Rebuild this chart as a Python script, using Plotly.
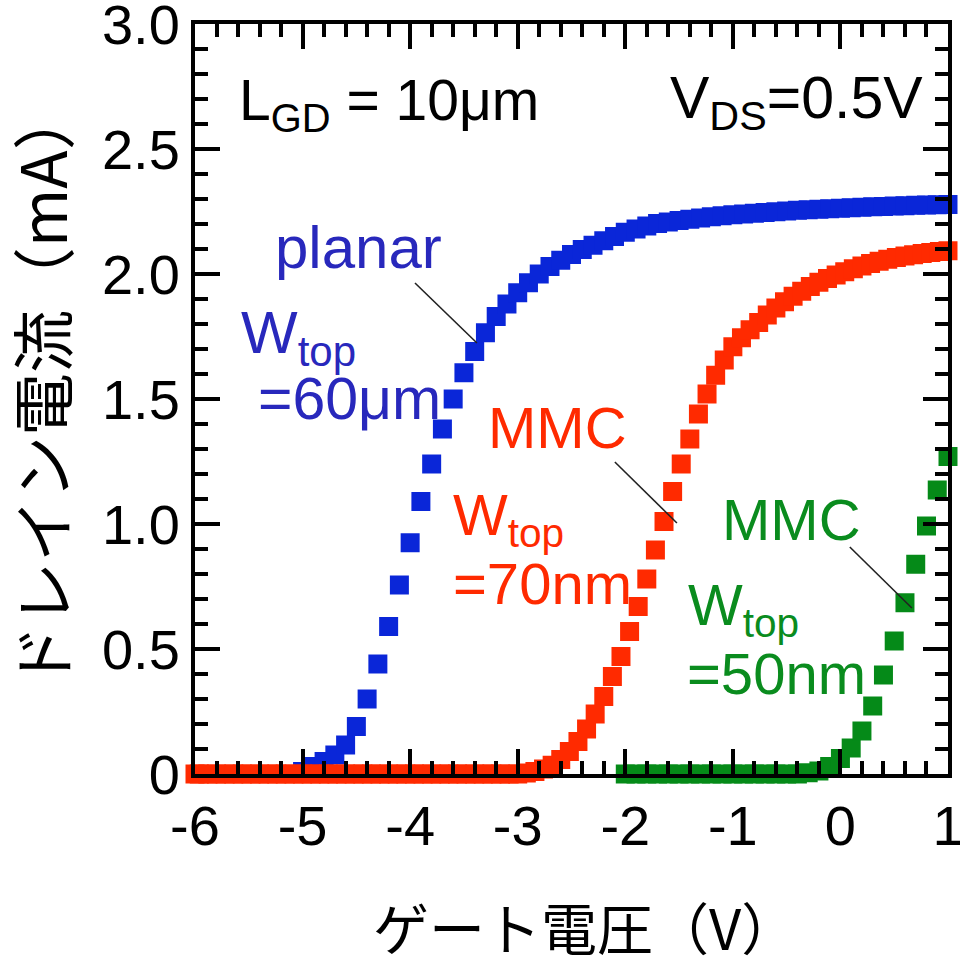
import numpy as np
import plotly.graph_objects as go

# ---------------- data ----------------
# planar, W_top = 60 um  (gate sweep -5.0 .. 1.0 V, 0.1 V step)
planar_v = np.round(np.arange(-5.0, 1.0001, 0.1), 2)
planar_i = [0.01, 0.03, 0.05, 0.076, 0.116, 0.19, 0.30, 0.44, 0.59, 0.756,
            0.925, 1.09, 1.24, 1.38, 1.50, 1.605, 1.69, 1.765, 1.83, 1.88,
            1.925, 1.965, 2.0, 2.03, 2.055, 2.078, 2.098, 2.115, 2.133, 2.15,
            2.167, 2.18, 2.192, 2.202, 2.208, 2.214, 2.219, 2.224, 2.229, 2.233,
            2.237, 2.24, 2.243, 2.246, 2.249, 2.252, 2.255, 2.257, 2.259, 2.261,
            2.263, 2.265, 2.267, 2.269, 2.27, 2.272, 2.273, 2.275, 2.276, 2.277,
            2.278]

# MMC, W_top = 70 nm  (gate sweep -6.0 .. 1.0 V, 0.08 V step)
mmc70_v = np.concatenate([[-6.0], np.round(1.0 - 0.08 * np.arange(87, -1, -1), 2)])
mmc70_i = [0.0] * 38 + [
    0.0, 0.004, 0.01, 0.02, 0.035, 0.058, 0.09, 0.13, 0.18, 0.24,
    0.31, 0.39, 0.47, 0.57, 0.67, 0.78, 0.896, 1.01, 1.13, 1.24,
    1.34, 1.44, 1.52, 1.595, 1.656, 1.709, 1.745, 1.777, 1.806, 1.836,
    1.864, 1.889, 1.911, 1.931, 1.95, 1.967, 1.982, 1.996, 2.009, 2.021,
    2.032, 2.042, 2.051, 2.059, 2.066, 2.072, 2.077, 2.082, 2.086, 2.09,
    2.093]

# MMC, W_top = 50 nm  (gate sweep -2.0 .. 1.0 V, 0.1 V step)
mmc50_v = np.round(np.arange(-2.0, 1.0001, 0.1), 2)
mmc50_i = [0.0] * 17 + [0.005, 0.012, 0.03, 0.062, 0.104, 0.172, 0.272, 0.396,
                        0.532, 0.685, 0.839, 0.992, 1.136, 1.27]

assert len(planar_v) == len(planar_i)
assert len(mmc70_v) == len(mmc70_i)
assert len(mmc50_v) == len(mmc50_i)

x_ticks = [-6, -5, -4, -3, -2, -1, 0, 1]
x_tick_text = ["-6", "-5", "-4", "-3", "-2", "-1", "0", "1"]
y_ticks = [0, 0.5, 1.0, 1.5, 2.0, 2.5, 3.0]
y_tick_text = ["0", "0.5", "1.0", "1.5", "2.0", "2.5", "3.0"]

# ---------------- styles ----------------
BLUE = "#0a26d8"
RED = "#ff2a00"
GREEN = "#058a18"
BLUE_T = "#2828bc"
RED_T = "#ff2a00"
GREEN_T = "#0a8c1e"
FONT = "Liberation Sans, Arial, sans-serif"
JFONT = "Noto Sans CJK JP, sans-serif"

W, H = 960, 960
ML, MR, MT, MB = 195, 12, 24, 186
PW, PH = W - ML - MR, H - MT - MB


def px(x):
    return (x - ML) / PW


def py(y):
    return (H - MB - y) / PH


fig = go.Figure()
for v, i, c in [(planar_v, planar_i, BLUE), (mmc70_v, mmc70_i, RED), (mmc50_v, mmc50_i, GREEN)]:
    fig.add_trace(go.Scatter(
        x=v, y=i, mode="markers", cliponaxis=False, showlegend=False,
        marker=dict(symbol="square", size=19, color=c, line=dict(width=0)),
    ))

axis_common = dict(
    showline=True, linewidth=4, linecolor="black", mirror="ticks",
    ticks="inside", ticklen=25, tickwidth=3.5, tickcolor="black",
    showgrid=False, zeroline=False, ticklabeloverflow="allow", automargin=False,
    tickfont=dict(family=FONT, size=56, color="black"),
)
fig.update_xaxes(range=[-6, 1], tickmode="array", tickvals=x_ticks, ticktext=x_tick_text,
                 minor=dict(dtick=0.2, tick0=0, ticks="inside", ticklen=13, tickwidth=3.5,
                            tickcolor="black", showgrid=False),
                 **axis_common)
fig.update_yaxes(range=[0, 3], tickmode="array", tickvals=y_ticks, ticktext=y_tick_text,
                 minor=dict(dtick=0.1, tick0=0, ticks="inside", ticklen=13, tickwidth=3.5,
                            tickcolor="black", showgrid=False),
                 **axis_common)

ann = []


def text(x, y, s, color, size=58, xanchor="left", family=FONT, angle=0):
    ann.append(dict(x=px(x), y=py(y), xref="paper", yref="paper", text=s, showarrow=False,
                    xanchor=xanchor, yanchor="middle", textangle=angle,
                    font=dict(family=family, size=size, color=color)))


text(237, 104, "L<sub>GD</sub> = 10μm", "black", size=57)
text(925, 102, "V<sub>DS</sub>=0.5V", "black", size=59, xanchor="right")

text(273, 247, "planar", BLUE_T, size=60)
text(239, 337, "W<sub>top</sub>", BLUE_T, size=60)
text(256, 399, "=60μm", BLUE_T, size=59)

text(486, 428, "MMC", RED_T)
text(451, 519, "W<sub>top</sub>", RED_T)
text(451, 584, "=70nm", RED_T)

text(720, 519, "MMC", GREEN_T)
text(686, 609, "W<sub>top</sub>", GREEN_T)
text(685, 673, "=50nm", GREEN_T)

text(585, 925, "ゲート電圧（V）", "black", size=56, xanchor="center", family=JFONT)
text(40, 388, "ドレイン電流（mA）", "black", size=63, xanchor="center", family=JFONT, angle=-90)

# leader lines
lines = [((-3.955, 1.964), (-3.379, 1.724)),
         ((-2.097, 1.248), (-1.52, 1.004)),
         ((0.087, 0.908), (0.664, 0.664))]
shapes = [dict(type="line", xref="x", yref="y", x0=a[0], y0=a[1], x1=b[0], y1=b[1],
               line=dict(color="#222222", width=1.6), layer="above") for a, b in lines]

fig.update_layout(
    width=W, height=H, margin=dict(l=ML, r=MR, t=MT, b=MB, autoexpand=False),
    paper_bgcolor="white", plot_bgcolor="white",
    annotations=ann, shapes=shapes,
)
fig.write_html("out.html")
